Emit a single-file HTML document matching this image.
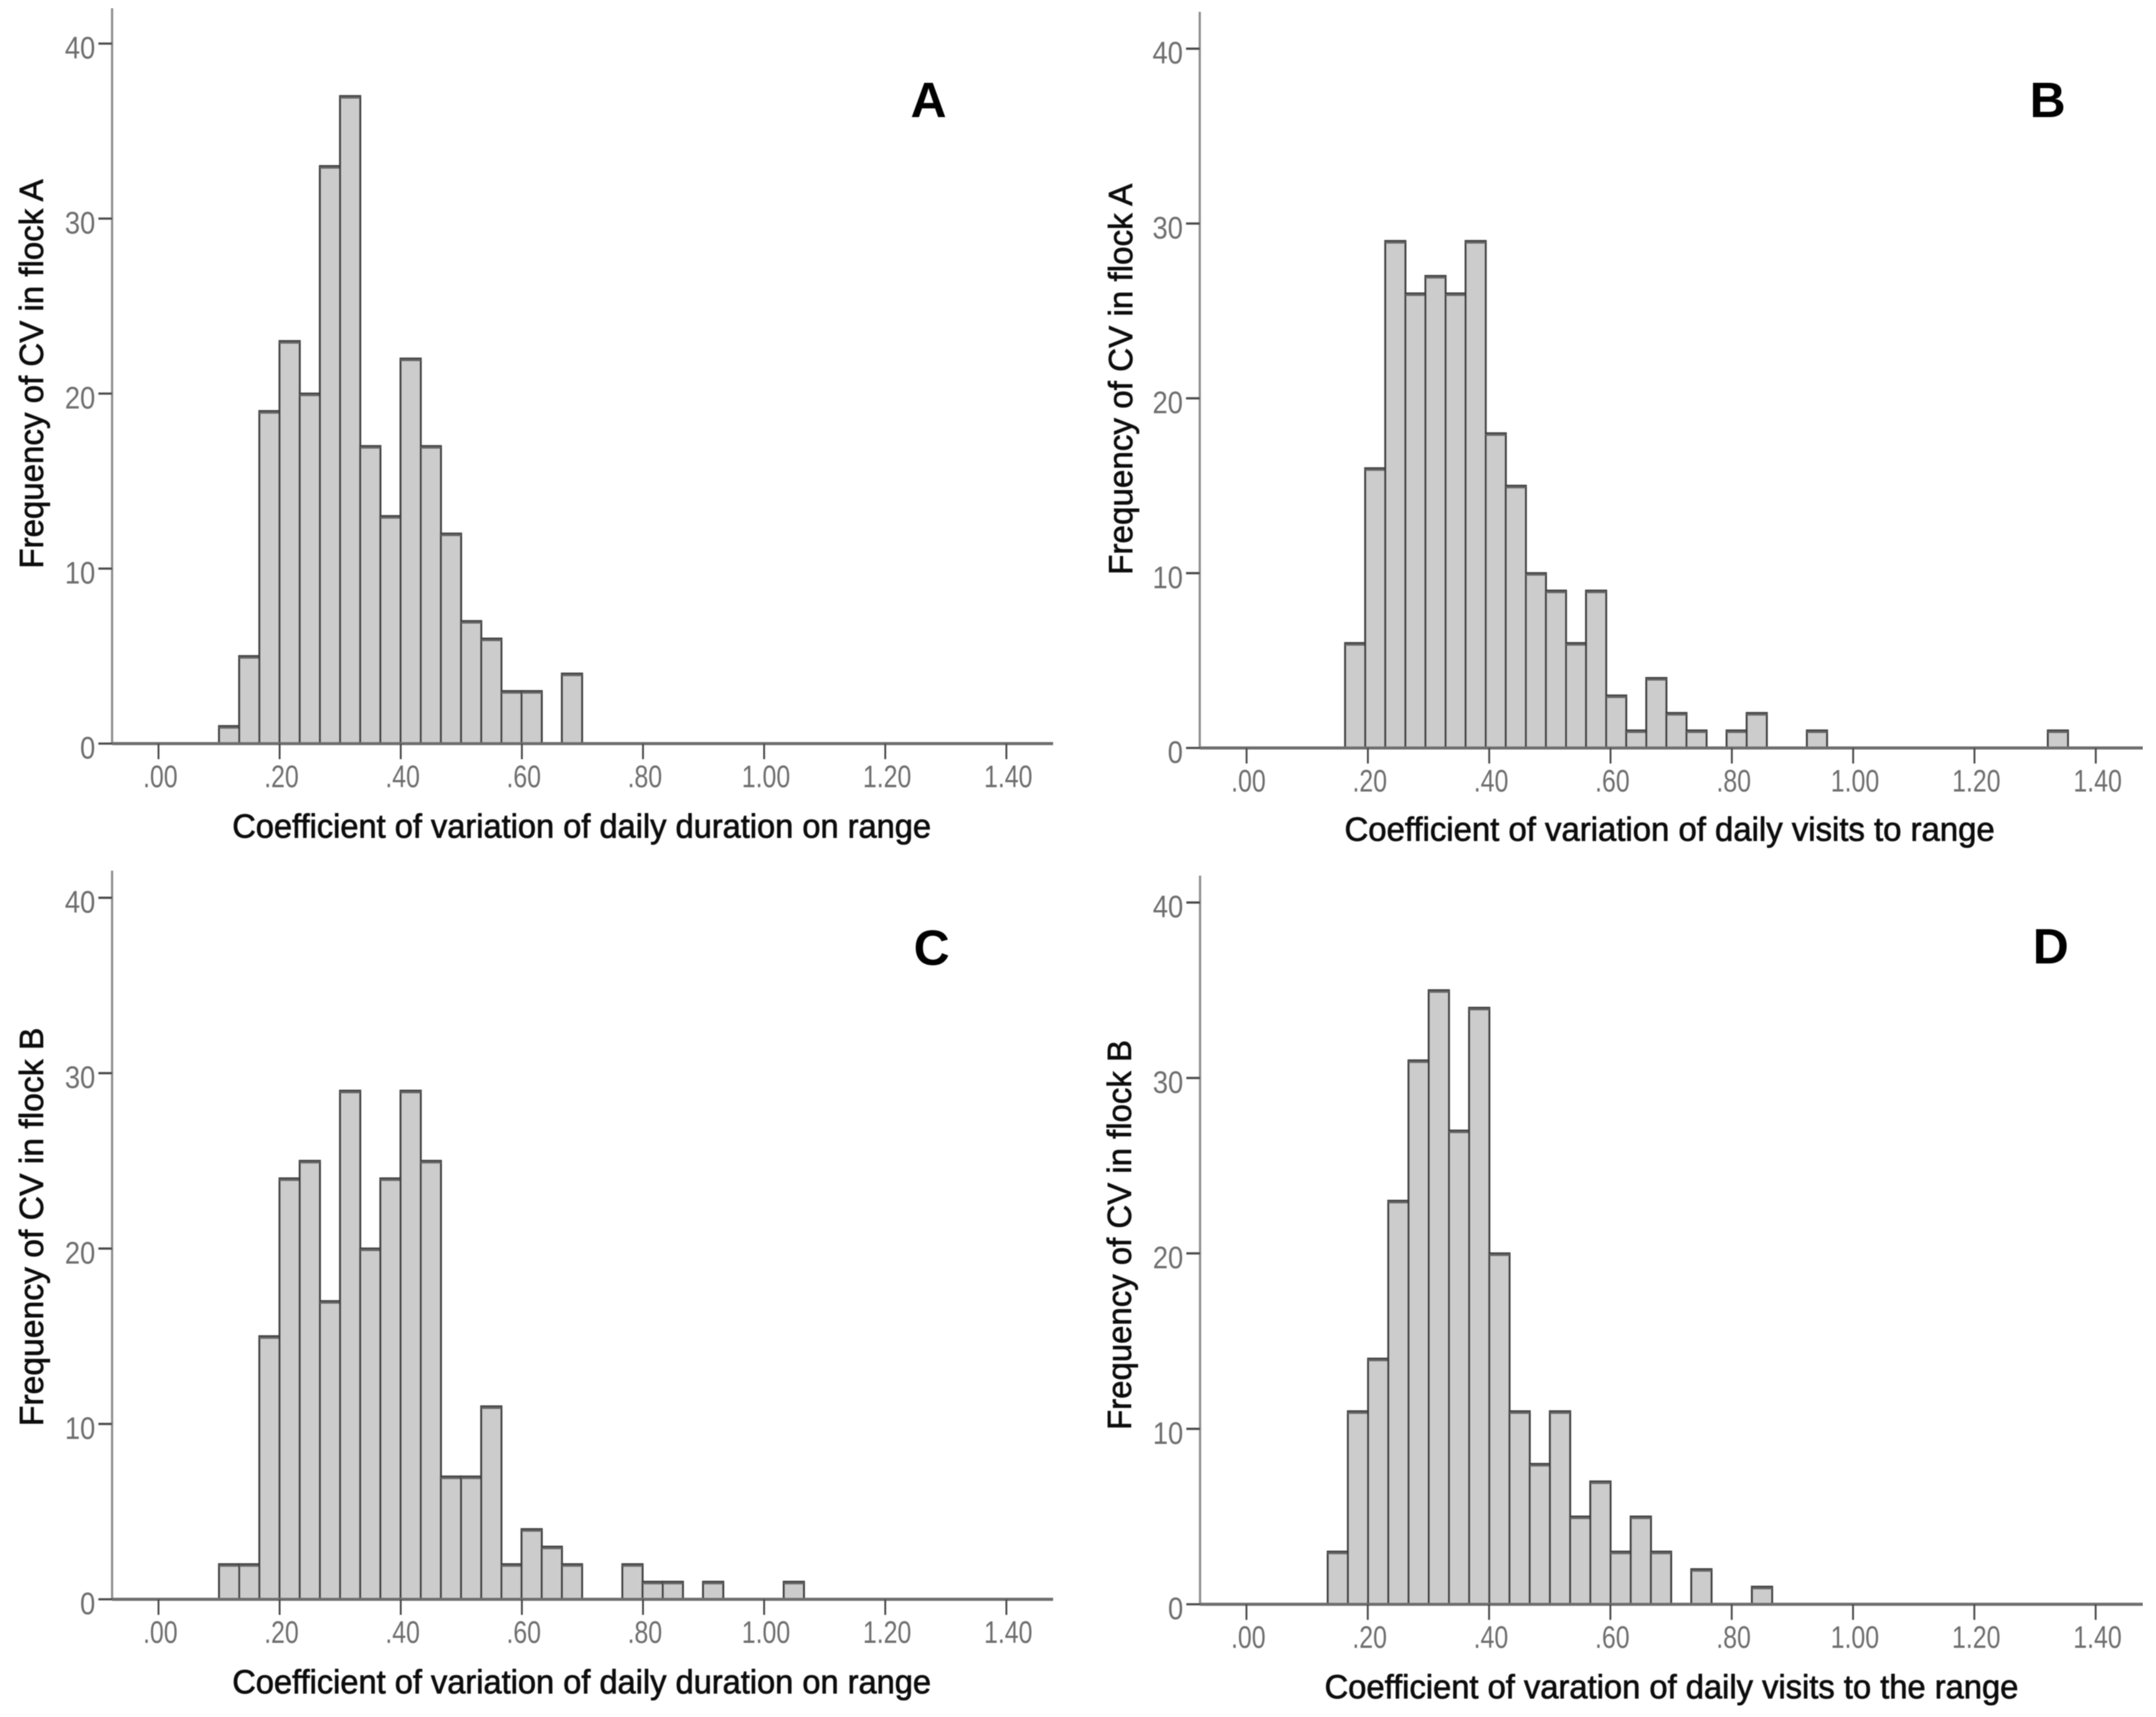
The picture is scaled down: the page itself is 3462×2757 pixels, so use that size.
<!DOCTYPE html>
<html>
<head>
<meta charset="utf-8">
<style>
html,body{margin:0;padding:0;background:#fff;width:3462px;height:2757px;overflow:hidden}
svg{display:block}
text{font-family:"Liberation Sans",sans-serif}
</style>
</head>
<body>
<svg id="chart" xmlns="http://www.w3.org/2000/svg" width="3462" height="2757" viewBox="0 0 3462 2757">
  <defs><filter id="soft" x="0" y="0" width="100%" height="100%"><feGaussianBlur stdDeviation="0.9"/></filter></defs>
  <rect width="3462" height="2757" fill="#fff"/>
  <g id="root" filter="url(#soft)">
    <text x="1491" y="188" font-size="80" font-weight="700" text-anchor="middle" fill="#000">A</text>
    <text x="3288" y="188" font-size="80" font-weight="700" text-anchor="middle" fill="#000">B</text>
    <text x="1496" y="1549" font-size="80" font-weight="700" text-anchor="middle" fill="#000">C</text>
    <text x="3293" y="1547" font-size="80" font-weight="700" text-anchor="middle" fill="#000">D</text>

    <text x="373" y="1345" font-size="54" textLength="1122" lengthAdjust="spacingAndGlyphs" fill="#111" stroke="#111" stroke-width="1.1">Coefficient of variation of daily duration on range</text>
    <text x="2159" y="1350" font-size="54" textLength="1044" lengthAdjust="spacingAndGlyphs" fill="#111" stroke="#111" stroke-width="1.1">Coefficient of variation of daily visits to range</text>
    <text x="373" y="2719" font-size="54" textLength="1122" lengthAdjust="spacingAndGlyphs" fill="#111" stroke="#111" stroke-width="1.1">Coefficient of variation of daily duration on range</text>
    <text x="2127" y="2727" font-size="54" textLength="1114" lengthAdjust="spacingAndGlyphs" fill="#111" stroke="#111" stroke-width="1.1">Coefficient of varation of daily visits to the range</text>

    <text transform="translate(69 913) rotate(-90)" font-size="54" textLength="625" lengthAdjust="spacingAndGlyphs" fill="#111" stroke="#111" stroke-width="1">Frequency of CV in flock A</text>
    <text transform="translate(1818 923) rotate(-90)" font-size="54" textLength="628" lengthAdjust="spacingAndGlyphs" fill="#111" stroke="#111" stroke-width="1">Frequency of CV in flock A</text>
    <text transform="translate(69 2290) rotate(-90)" font-size="54" textLength="640" lengthAdjust="spacingAndGlyphs" fill="#111" stroke="#111" stroke-width="1">Frequency of CV in flock B</text>
    <text transform="translate(1816 2296) rotate(-90)" font-size="54" textLength="626" lengthAdjust="spacingAndGlyphs" fill="#111" stroke="#111" stroke-width="1">Frequency of CV in flock B</text>
  </g>
</svg>
<script>
const xTickValues = [0, 0.2, 0.4, 0.6, 0.8, 1.0, 1.2, 1.4];
const xTickLabels = [".00", ".20", ".40", ".60", ".80", "1.00", "1.20", "1.40"];
const yTickValues = [0, 10, 20, 30, 40];
const yTickLabels = ["0", "10", "20", "30", "40"];

const binStartA = 0.1;
const binWidthA = 0.0333;
const countsA = [1, 5, 19, 23, 20, 33, 37, 17, 13, 22, 17, 12, 7, 6, 3, 3, 0, 4];

const binStartB = 0.1625;
const binWidthB = 0.0331;
const countsB = [6, 16, 29, 26, 27, 26, 29, 18, 15, 10, 9, 6, 9, 3, 1, 4, 2, 1, 0, 1, 2, 0, 0, 1, 0, 0, 0, 0, 0, 0, 0, 0, 0, 0, 0, 1];

const binStartC = 0.1;
const binWidthC = 0.0333;
const countsC = [2, 2, 15, 24, 25, 17, 29, 20, 24, 29, 25, 7, 7, 11, 2, 4, 3, 2, 0, 0, 2, 1, 1, 0, 1, 0, 0, 0, 1];

const binStartD = 0.134;
const binWidthD = 0.0333;
const countsD = [3, 11, 14, 23, 31, 35, 27, 34, 20, 11, 8, 11, 5, 7, 3, 5, 3, 0, 2, 0, 0, 1];

const SVGNS = "http://www.w3.org/2000/svg";
const root = document.getElementById("root");

function make(tag, attrs, parent) {
  const el = document.createElementNS(SVGNS, tag);
  for (const k in attrs) el.setAttribute(k, attrs[k]);
  parent.appendChild(el);
  return el;
}
function labelWidth(s, size, squeeze) {
  let w = 0;
  for (const ch of s) w += (ch === "." ? 0.278 : 0.556) * size;
  return w * squeeze;
}

function drawPanel(key, counts, binStart, binWidth, geo) {
  const xScale = v => geo.x0 + v * geo.xPerUnit;
  const yScale = v => geo.y0 - v * geo.yPerUnit;

  const g = make("g", {}, root);
  
  

  counts.forEach((c, i) => {
    if (c <= 0) return;
    const xa = xScale(binStart + i * binWidth);
    const xb = xScale(binStart + (i + 1) * binWidth);
    const bar = make("rect", {
      x: xa, y: yScale(c), width: xb - xa, height: yScale(0) - yScale(c),
      fill: "#cccccc", stroke: "#3c3c3c", "stroke-width": 3.2
    }, g);
    
    
    make("line", {
      x1: xa, x2: xb, y1: yScale(c) + 2.5, y2: yScale(c) + 2.5,
      stroke: "#666666", "stroke-width": 3.5
    }, g);
  });

  const yAxis = make("line", {
    x1: geo.axisX, x2: geo.axisX, y1: geo.axisTop, y2: geo.y0,
    stroke: "#8f8f8f", "stroke-width": 3.6
  }, g);
  
  

  const xAxis = make("line", {
    x1: geo.axisX, x2: geo.axisEnd, y1: geo.y0, y2: geo.y0,
    stroke: "#6e6e6e", "stroke-width": 5
  }, g);
  
  

  yTickValues.forEach((v, i) => {
    const y = yScale(v);
    const tick = make("line", {
      x1: geo.axisX - 22, x2: geo.axisX, y1: y, y2: y,
      stroke: "#4a4a4a", "stroke-width": 3.6
    }, g);
    
    
    const s = yTickLabels[i];
    const w = labelWidth(s, 50, 0.88);
    const t = make("text", {
      x: geo.axisX - 27 - w, y: y + 24, "font-size": 50, fill: "#6e6e6e",
      textLength: w, lengthAdjust: "spacingAndGlyphs"
    }, g);
    t.textContent = s;
    
    
  });

  xTickValues.forEach((v, i) => {
    const x = xScale(v);
    const tick = make("line", {
      x1: x, x2: x, y1: geo.y0, y2: geo.y0 + 25,
      stroke: "#4a4a4a", "stroke-width": 3
    }, g);
    
    
    const s = xTickLabels[i];
    const w = labelWidth(s, 50, 0.8);
    const t = make("text", {
      x: x + 3 - w / 2, y: geo.y0 + 70, "font-size": 50, fill: "#6e6e6e",
      textLength: w, lengthAdjust: "spacingAndGlyphs"
    }, g);
    t.textContent = s;
    
    
  });
}

drawPanel("a", countsA, binStartA, binWidthA, {x0: 254.5, xPerUnit: 972.5, y0: 1194, yPerUnit: 28.1, axisX: 180, axisTop: 13, axisEnd: 1691});
drawPanel("b", countsB, binStartB, binWidthB, {x0: 2001.7, xPerUnit: 974, y0: 1201, yPerUnit: 28.07, axisX: 1926.5, axisTop: 19, axisEnd: 3441});
drawPanel("c", countsC, binStartC, binWidthC, {x0: 254.5, xPerUnit: 972.5, y0: 2568, yPerUnit: 28.16, axisX: 180, axisTop: 1398, axisEnd: 1691});
drawPanel("d", countsD, binStartD, binWidthD, {x0: 2001.5, xPerUnit: 974, y0: 2576, yPerUnit: 28.17, axisX: 1927, axisTop: 1406, axisEnd: 3441});
</script>
</body>
</html>
